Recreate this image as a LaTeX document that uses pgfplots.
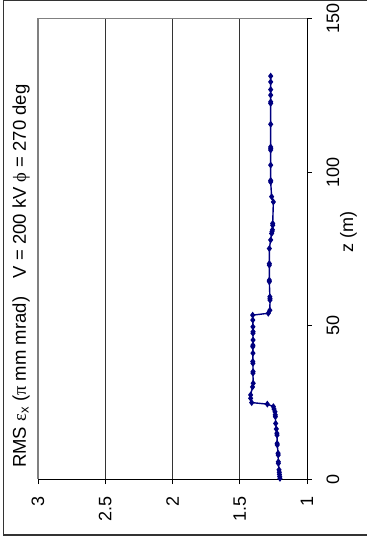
\documentclass[border=0pt]{standalone}
\usepackage{pgfplots}
\pgfplotsset{compat=1.18}
\usepackage{pgfplotstable}
\usepackage{fontspec}
\setmainfont{Liberation Sans}
\newfontfamily\greekfont{Liberation Serif}
\definecolor{seriesnavy}{RGB}{0,0,128}
\definecolor{framegray}{RGB}{51,51,51}

% RMS emittance along the line: eps (pi mm mrad), z (m)
\pgfplotstableread{
eps    z
1.201  0.2
1.203  0.8
1.205  1.5
1.206  2.2
1.208  3.0
1.213  5.1
1.213  5.6
1.214  7.8
1.215  8.4
1.221  11.1
1.222  11.6
1.223  14.3
1.224  14.9
1.228  16.3
1.233  18.1
1.235  20.3
1.236  20.9
1.238  21.9
1.245  22.8
1.250  23.6
1.295  24.4
1.411  24.9
1.419  26.3
1.419  27.4
1.405  30.0
1.400  31.2
1.402  34.5
1.401  35.0
1.402  37.7
1.403  38.3
1.402  41.0
1.403  43.1
1.402  43.6
1.401  45.3
1.402  47.5
1.401  48.0
1.402  49.6
1.403  51.8
1.404  53.4
1.288  54.0
1.276  55.0
1.275  58.3
1.275  58.8
1.276  59.4
1.280  64.3
1.280  64.8
1.280  69.7
1.280  70.2
1.280  75.1
1.270  77.9
1.263  80.0
1.260  80.6
1.257  81.2
1.255  82.7
1.255  83.3
1.250  90.3
1.263  92.0
1.270  96.8
1.270  97.3
1.270  102.3
1.270  107.2
1.270  107.7
1.270  108.2
1.270  115.6
1.270  122.4
1.270  122.9
1.270  125.1
1.270  126.9
1.270  129.4
1.270  131.3
}\emittance

\begin{document}
\begin{tikzpicture}[x=1pt,y=1pt]
\useasboundingbox (0,0) rectangle (367,539);
% chart frame (open to the right)
\draw[framegray, line width=1.8pt] (367,538.5) -- (3.5,538.5) -- (3.5,4) -- (367,4);
\begin{axis}[
  at={(38pt,60pt)}, anchor=south west,
  scale only axis, width=269pt, height=460.3pt,
  x dir=reverse,
  xmin=1, xmax=3, ymin=0, ymax=150,
  axis x line*=bottom, axis y line*=right,
  axis line style={black, line width=0.9pt},
  xtick={1.5,2,2.5}, extra x ticks={1,3},
  extra x tick style={grid=none},
  ytick={0,50,100,150},
  xtick pos=left, ytick pos=right,
  xticklabel pos=left, yticklabel pos=right,
  tick align=outside, major tick length=5pt,
  tick style={black, line width=0.9pt},
  xmajorgrids,
  grid style={black!80, line width=0.7pt},
  /pgf/number format/assume math mode=true,
  ticklabel style={font=\fontsize{18}{21}\selectfont},
  xticklabel style={rotate=90, anchor=east},
  yticklabel style={rotate=90, anchor=north},
  xticklabel shift=9pt, yticklabel shift=11pt,
  clip=false,
]
\draw[gray, line width=1.3pt] (axis description cs:0,0) -- (axis description cs:0,1) -- (axis description cs:1,1);
\addplot[seriesnavy, line width=1.4pt, mark=diamond*, mark size=2.3pt,
  mark options={solid, fill=seriesnavy}] table[x=eps, y=z] {\emittance};
\end{axis}
\node[rotate=90, anchor=base, inner sep=0pt, font=\fontsize{18}{21}\selectfont] at (353,307) {z (m)};
\node[rotate=90, anchor=base west, inner sep=0pt, font=\fontsize{18.5}{22}\selectfont] at (26,71)
  {RMS {\greekfont ε}\textsubscript{x} ({\greekfont π} mm mrad)\quad V = 200 kV {\greekfont ϕ} = 270 deg};
\end{tikzpicture}
\end{document}
